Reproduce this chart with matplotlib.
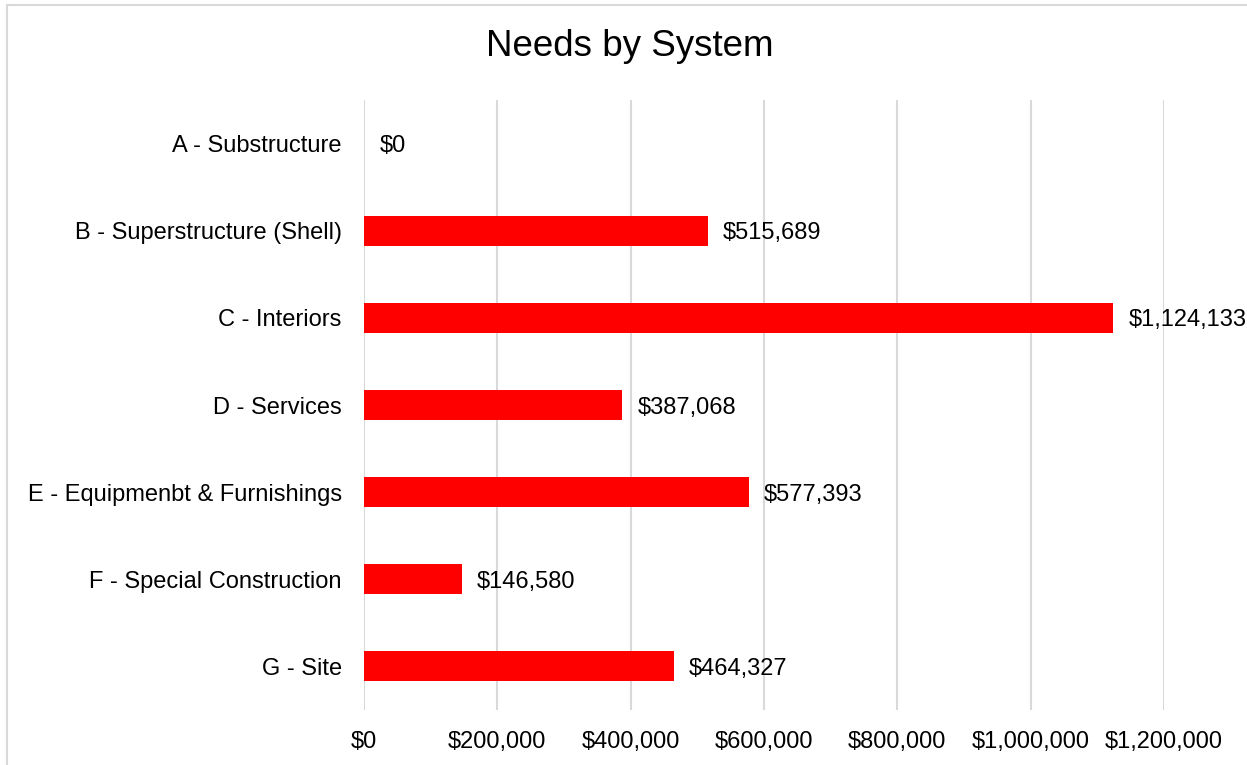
import matplotlib.pyplot as plt
from matplotlib.lines import Line2D
from matplotlib.ticker import FuncFormatter

systems = ["A - Substructure", "B - Superstructure (Shell)", "C - Interiors",
           "D - Services", "E - Equipmenbt & Furnishings",
           "F - Special Construction", "G - Site"]
needs = [0, 515689, 1124133, 387068, 577393, 146580, 464327]
x_ticks = [0, 200000, 400000, 600000, 800000, 1000000, 1200000]

plt.rcParams['font.family'] = ['Liberation Sans', 'DejaVu Sans']

fig = plt.figure(figsize=(12.47, 7.65), dpi=100)
ax = fig.add_axes([364 / 1247, 55 / 765, 800 / 1247, 610 / 765])

pos = list(range(len(systems)))
ax.barh(pos, needs, height=0.345, color="#ff0000", zorder=3)

for y, v in zip(pos, needs):
    ax.annotate(f"${v:,.0f}", xy=(v, y), xytext=(11, 0), textcoords="offset points",
                va="center_baseline", ha="left", fontsize=17, color="black", clip_on=False)

ax.set_ylim(len(systems) - 0.5, -0.5)
ax.set_yticks(pos)
ax.set_yticklabels(systems, fontsize=17)
ax.set_xlim(0, 1200000)
ax.set_xticks(x_ticks)
ax.xaxis.set_major_formatter(FuncFormatter(lambda v, p: f"${v:,.0f}"))
ax.tick_params(axis="x", labelsize=17, length=0, pad=15)
ax.tick_params(axis="y", length=0, pad=16)

ax.grid(axis="x", color="#d9d9d9", linewidth=1.5, zorder=0)
for s in ax.spines.values():
    s.set_visible(False)

fig.text(630 / 1247, 1 - 47 / 765, "Needs by System", ha="center", va="center",
         fontsize=26.5, color="black")

# chart frame (only top and left edges fall inside the canvas)
fig.add_artist(Line2D([7 / 1247, 7 / 1247], [0, 1 - 5 / 765], transform=fig.transFigure,
                      color="#d9d9d9", linewidth=1.5))
fig.add_artist(Line2D([7 / 1247, 1], [1 - 5 / 765, 1 - 5 / 765], transform=fig.transFigure,
                      color="#d9d9d9", linewidth=1.5))

fig.savefig("out.png", dpi=100)
